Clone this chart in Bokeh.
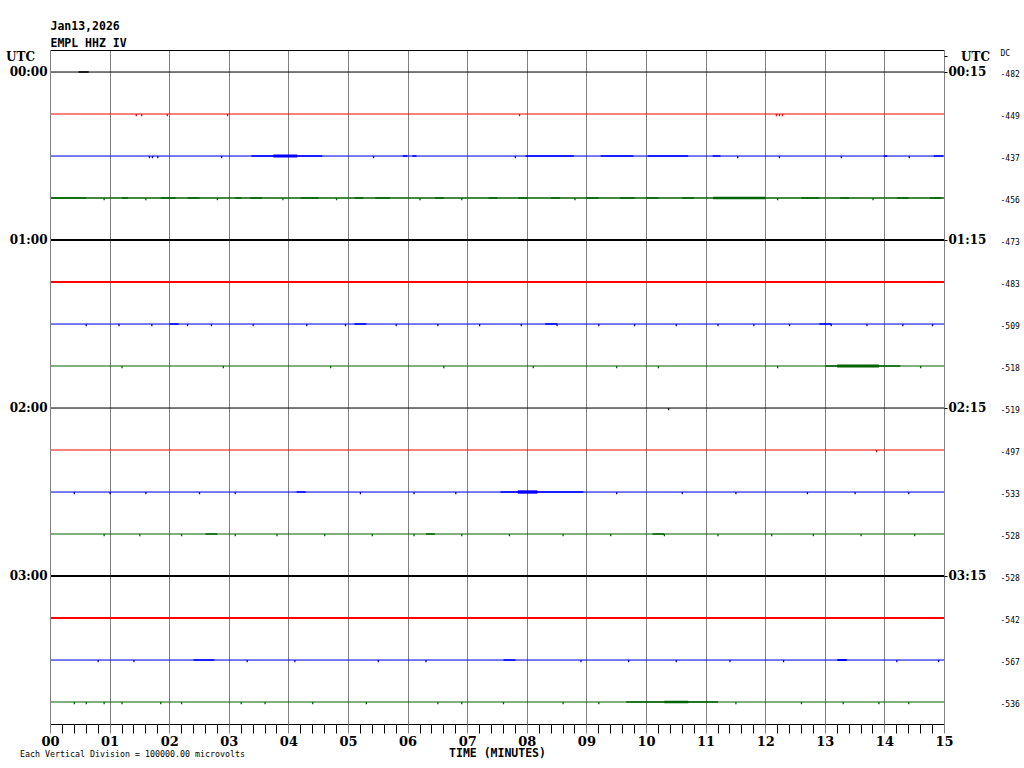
from bokeh.plotting import figure
from bokeh.models import (Range1d, FixedTicker, LinearAxis, ColumnDataSource, Grid, Title)
from bokeh.embed import file_html
from bokeh.resources import INLINE

# ---------------- data ----------------
date_label = "Jan13,2026"
station_label = "EMPL HHZ IV"
utc_label = "UTC"
left_times = ["00:00", "01:00", "02:00", "03:00"]
right_times = ["00:15", "01:15", "02:15", "03:15"]
time_rows = [0, 4, 8, 12]
minute_labels = ["00", "01", "02", "03", "04", "05", "06", "07",
                 "08", "09", "10", "11", "12", "13", "14", "15"]
dc_offsets = [-482, -449, -437, -456, -473, -483, -509, -518,
              -519, -497, -533, -528, -528, -542, -567, -536]
# noise level of each 15-minute line
trace_noise = [1, 1, 1.2, 1.5, 2.2, 2.2, 1.1, 1, 1, 1, 1.1, 1.1, 2.2, 2.2, 1.1, 1.1]
# bursts: (row, start minute, end minute, half amplitude in divisions)
bursts = [
    (0, 0.47, 0.64, 0.02),
    (2, 3.37, 4.56, 0.018), (2, 3.74, 4.14, 0.035), (2, 5.91, 5.99, 0.018),
    (2, 6.07, 6.14, 0.018), (2, 7.97, 8.78, 0.018), (2, 9.23, 9.78, 0.018),
    (2, 10.02, 10.70, 0.018), (2, 11.11, 11.24, 0.018), (2, 13.98, 14.04, 0.018),
    (2, 14.82, 14.98, 0.018),
    (3, 0.00, 0.60, 0.02), (3, 1.20, 1.30, 0.02), (3, 1.85, 2.10, 0.02),
    (3, 2.30, 2.50, 0.02), (3, 3.10, 3.20, 0.02), (3, 3.35, 3.55, 0.02),
    (3, 4.20, 4.50, 0.02), (3, 5.10, 5.25, 0.02), (3, 5.45, 5.70, 0.02),
    (3, 6.45, 6.60, 0.02), (3, 7.35, 7.50, 0.02), (3, 7.85, 8.00, 0.02),
    (3, 8.40, 8.55, 0.02), (3, 9.00, 9.20, 0.02), (3, 9.55, 9.80, 0.02),
    (3, 10.00, 10.20, 0.02), (3, 10.60, 10.80, 0.02), (3, 11.12, 11.99, 0.03),
    (3, 12.60, 12.90, 0.02), (3, 13.25, 13.40, 0.02), (3, 14.20, 14.40, 0.02),
    (3, 14.75, 14.95, 0.02),
    (6, 2.00, 2.15, 0.018), (6, 5.10, 5.30, 0.018), (6, 8.30, 8.50, 0.018),
    (6, 12.90, 13.10, 0.018),
    (7, 13.00, 14.26, 0.02), (7, 13.20, 13.90, 0.035),
    (10, 4.13, 4.28, 0.018), (10, 7.55, 8.94, 0.018), (10, 7.84, 8.17, 0.04),
    (11, 2.60, 2.80, 0.018), (11, 6.30, 6.45, 0.018), (11, 10.10, 10.30, 0.018),
    (12, 1.51, 1.76, 0.025),
    (14, 2.40, 2.75, 0.018), (14, 7.60, 7.80, 0.018), (14, 13.20, 13.36, 0.022),
    (15, 9.66, 11.20, 0.018), (15, 10.30, 10.70, 0.03),
]
# isolated spikes: row -> minutes
spikes = {
    1: [1.44, 1.53, 1.96, 2.97, 7.87, 12.18, 12.23, 12.28],
    2: [1.66, 1.71, 1.80, 2.87, 5.42, 7.80, 11.53, 12.23, 13.27, 14.41],
    3: [0.9, 1.6, 2.8, 3.9, 4.8, 6.2, 6.9, 8.8, 12.2, 13.8],
    6: [0.6, 1.15, 1.7, 2.3, 2.7, 3.4, 4.3, 4.95, 5.8, 6.5, 7.2, 7.9, 8.5,
        9.2, 9.8, 10.5, 11.2, 11.8, 12.4, 13.1, 13.7, 14.3, 14.8],
    7: [1.2, 2.9, 4.7, 6.6, 8.1, 9.5, 10.2, 12.2, 14.6],
    8: [10.37],
    9: [13.86],
    10: [0.4, 1.0, 1.6, 2.5, 3.1, 5.2, 6.1, 6.8, 9.5, 10.6, 11.5, 12.7, 13.5, 14.4],
    11: [0.9, 1.5, 2.2, 3.1, 3.8, 4.6, 5.4, 6.1, 6.9, 7.7, 8.6, 9.4, 10.3,
         11.2, 12.1, 12.8, 13.6, 14.5],
    14: [0.8, 1.4, 3.3, 4.1, 5.5, 6.3, 8.9, 9.7, 10.5, 11.4, 12.3, 14.2, 14.9],
    15: [0.4, 0.6, 0.9, 1.2, 1.85, 2.2, 3.2, 3.6, 4.4, 5.3, 6.5, 6.9, 7.6,
         8.6, 9.2, 11.5, 12.6, 13.3, 13.9, 14.4],
}
vertical_division_text = "Each Vertical Division = 100000.00 microvolts"
axis_title = "TIME (MINUTES)"

# ---------------- style / layout ----------------
COLORS = ["#000000", "#ff0000", "#0000ff", "#006400"]
GREY = "#808080"
W, H = 1022, 764
ML, MT = 50, 50
FRAME_W, FRAME_H = 894, 674
MR = W - ML - FRAME_W
MB = H - MT - FRAME_H
ROW_PX = 42.0
Y_TOP = -21.5 / ROW_PX
Y_BOT = Y_TOP + FRAME_H / ROW_PX
N_ROWS = len(dc_offsets)
MONO = "DejaVu Sans Mono"
SERIF = "DejaVu Serif"
UTC_ROW = -0.36   # row position of the "UTC" headings
DC_ROW = -0.45
FOOT_X = (132 - ML) * 15.0 / FRAME_W   # centre of the footnote, in minutes
NB = "\u00a0"

p = figure(width=W, height=H, x_range=Range1d(0, 15), y_range=Range1d(Y_BOT, Y_TOP),
           output_backend="svg", toolbar_location=None,
           x_axis_location=None, y_axis_location=None,
           min_border_left=ML, min_border_right=MR, min_border_top=MT, min_border_bottom=MB)
p.outline_line_color = None
p.background_fill_color = "white"
p.border_fill_color = "white"

p.add_layout(Grid(dimension=0, ticker=FixedTicker(ticks=list(range(16))),
                  grid_line_color=GREY, grid_line_width=1))

rows = list(range(N_ROWS))
base = ColumnDataSource(dict(
    x0=[0] * N_ROWS, x1=[15] * N_ROWS, y=rows,
    color=[COLORS[r % 4] for r in rows], lw=trace_noise))
p.segment(x0="x0", x1="x1", y0="y", y1="y", line_color="color", line_width="lw", source=base)

bsrc = ColumnDataSource(dict(
    left=[b[1] for b in bursts], right=[b[2] for b in bursts],
    top=[b[0] - b[3] for b in bursts], bottom=[b[0] + b[3] for b in bursts],
    color=[COLORS[b[0] % 4] for b in bursts]))
p.quad(left="left", right="right", top="top", bottom="bottom",
       fill_color="color", line_color=None, source=bsrc)

sx, sy0, sy1, sc = [], [], [], []
for r, ts in spikes.items():
    for t in ts:
        sx.append(t); sy0.append(r); sy1.append(r + 0.055); sc.append(COLORS[r % 4])
p.segment(x0="x", x1="x", y0="y0", y1="y1", line_color="c", line_width=1.3,
          source=ColumnDataSource(dict(x=sx, y0=sy0, y1=sy1, c=sc)))

# ---- axes ----
minor = [i / 5 for i in range(76) if i % 5 != 0]
xaxis = LinearAxis(ticker=FixedTicker(ticks=list(range(16)), minor_ticks=minor),
                   major_label_overrides={i: minute_labels[i] for i in range(16)},
                   major_tick_out=9, major_tick_in=0, minor_tick_out=9, minor_tick_in=0,
                   major_tick_line_color=GREY, minor_tick_line_color="black",
                   axis_line_color="black", major_label_standoff=2,
                   major_label_text_font=SERIF, major_label_text_font_style="bold",
                   major_label_text_font_size="13px", major_label_text_color="black",
                   axis_label=axis_title, axis_label_standoff=-3,
                   axis_label_text_font=MONO, axis_label_text_font_style="bold",
                   axis_label_text_font_size="11.5px", axis_label_text_color="black")
p.add_layout(xaxis, "below")

# footnote row, pulled up beside the axis title
foot = LinearAxis(ticker=FixedTicker(ticks=[FOOT_X]),
                  major_label_overrides={FOOT_X: vertical_division_text},
                  major_tick_out=0, major_tick_in=0, minor_tick_out=0, minor_tick_in=0,
                  axis_line_color=None, major_label_standoff=-14,
                  major_label_text_font=MONO, major_label_text_font_size="8.3px",
                  major_label_text_color="black")
p.add_layout(foot, "below")

top_axis = LinearAxis(ticker=FixedTicker(ticks=[]), axis_line_color="black",
                      major_tick_out=0, minor_tick_out=0, major_label_standoff=0,
                      major_label_text_font_size="0px")
p.add_layout(top_axis, "above")
p.add_layout(Title(text=station_label, align="left", text_font=MONO, text_font_style="bold",
                   text_font_size="11.5px", text_color="black", standoff=1), "above")
p.add_layout(Title(text=date_label, align="left", text_font=MONO, text_font_style="bold",
                   text_font_size="11.5px", text_color="black", standoff=1), "above")

l_ticks = [UTC_ROW] + time_rows
l_over = {UTC_ROW: utc_label + NB * 3}
l_over.update({r: t for r, t in zip(time_rows, left_times)})
laxis = LinearAxis(ticker=FixedTicker(ticks=l_ticks), major_label_overrides=l_over,
                   major_tick_out=0, major_tick_in=0, minor_tick_out=0, minor_tick_in=0,
                   axis_line_color=GREY, major_label_standoff=3,
                   major_label_text_font=SERIF, major_label_text_font_style="bold",
                   major_label_text_font_size="12px", major_label_text_color="black")
p.add_layout(laxis, "left")

r_over = {UTC_ROW: NB * 3 + utc_label}
r_over.update({r: t for r, t in zip(time_rows, right_times)})
raxis = LinearAxis(ticker=FixedTicker(ticks=l_ticks), major_label_overrides=r_over,
                   major_tick_out=3, major_tick_in=0, minor_tick_out=0, minor_tick_in=0,
                   major_tick_line_color="black",
                   axis_line_color=GREY, major_label_standoff=1,
                   major_label_text_font=SERIF, major_label_text_font_style="bold",
                   major_label_text_font_size="12px", major_label_text_color="black")
p.add_layout(raxis, "right")

dc_ticks = [DC_ROW] + [r + 0.05 for r in rows]
dc_over = {DC_ROW: "DC"}
for r, dc in enumerate(dc_offsets):
    dc_over[r + 0.05] = str(dc)
dcaxis = LinearAxis(ticker=FixedTicker(ticks=dc_ticks), major_label_overrides=dc_over,
                    major_tick_out=0, major_tick_in=0, minor_tick_out=0, minor_tick_in=0,
                    axis_line_color=None, major_label_standoff=8,
                    major_label_text_font=MONO, major_label_text_font_size="8px",
                    major_label_text_color="black")
p.add_layout(dcaxis, "right")

open("out.html", "w").write(file_html(p, INLINE))
